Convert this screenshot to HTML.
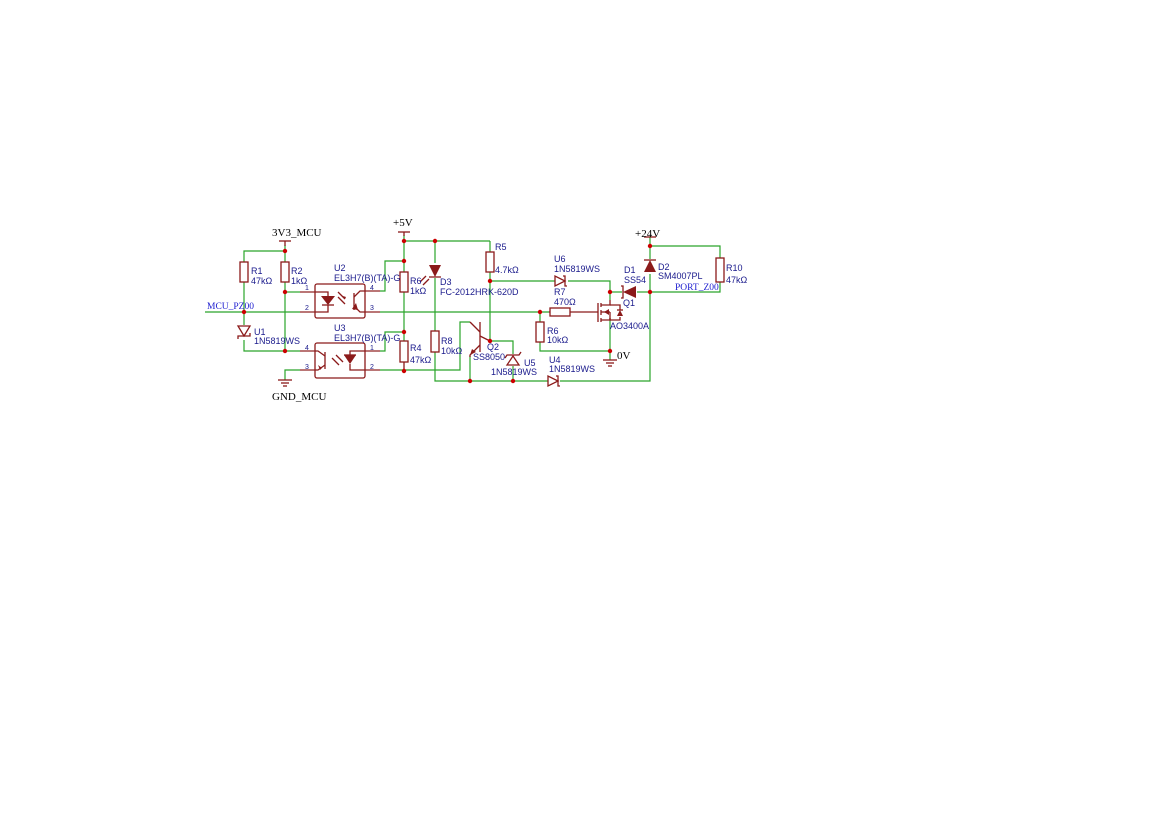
<!DOCTYPE html>
<html><head><meta charset="utf-8"><style>
html,body{margin:0;padding:0;background:#fff;width:1169px;height:827px;overflow:hidden}
svg{display:block}
.w{stroke:#2aa52a;stroke-width:1.2;fill:none}
.p{stroke:#8b1a1a;stroke-width:1.2;fill:none}
.c{stroke:#8b1a1a;stroke-width:1.3;fill:none}
.f{fill:#8b1a1a;stroke:none}
.j{fill:#cc0000}
.t{font-family:"Liberation Sans",sans-serif;font-size:9px;fill:#1a1a8c}
.s{font-family:"Liberation Serif",serif;font-size:11px;fill:#000}
.b{font-family:"Liberation Serif",serif;font-size:9.5px;fill:#2020d0}
</style></head><body>
<svg width="1169" height="827" viewBox="0 0 1169 827">
<g class="w">
<polyline points="244,262 244,251 285,251"/>
<line x1="285" y1="245" x2="285" y2="262"/>
<line x1="285" y1="282" x2="285" y2="351"/>
<line x1="285" y1="292" x2="300" y2="292"/>
<line x1="205" y1="312" x2="300" y2="312"/>
<line x1="244" y1="282" x2="244" y2="325"/>
<polyline points="244,340 244,351 300,351"/>
<polyline points="285,380 285,370 300,370"/>
<polyline points="380,291 385,291 385,261 404,261"/>
<line x1="380" y1="312" x2="549" y2="312"/>
<polyline points="380,351 385,351 385,332 404,332"/>
<polyline points="380,370 460,370 460,322 470,322"/>
<line x1="404" y1="235" x2="404" y2="272"/>
<line x1="404" y1="292" x2="404" y2="341"/>
<line x1="404" y1="241" x2="490" y2="241"/>
<line x1="490" y1="241" x2="490" y2="252"/>
<line x1="435" y1="241" x2="435" y2="263"/>
<line x1="435" y1="278" x2="435" y2="331"/>
<polyline points="435,352 435,381 548,381"/>
<line x1="490" y1="272" x2="490" y2="341"/>
<line x1="490" y1="281" x2="555" y2="281"/>
<polyline points="568,281 610,281 610,300"/>
<polyline points="490,341 513,341 513,354"/>
<line x1="513" y1="366" x2="513" y2="381"/>
<line x1="470" y1="356" x2="470" y2="381"/>
<polyline points="540,322 540,312"/>
<polyline points="540,342 540,351 610,351"/>
<line x1="610" y1="318" x2="610" y2="360"/>
<line x1="610" y1="292" x2="622" y2="292"/>
<line x1="637" y1="292" x2="650" y2="292"/>
<polyline points="560,381 650,381 650,274"/>
<line x1="650" y1="237" x2="650" y2="259"/>
<polyline points="650,246 720,246 720,258"/>
<polyline points="650,292 720,292 720,282"/>
</g>
<g class="p">
<line x1="300" y1="292" x2="315" y2="292"/><line x1="300" y1="312" x2="315" y2="312"/>
<line x1="365" y1="291" x2="380" y2="291"/><line x1="365" y1="312" x2="380" y2="312"/>
<line x1="300" y1="351" x2="315" y2="351"/><line x1="300" y1="370" x2="315" y2="370"/>
<line x1="365" y1="351" x2="380" y2="351"/><line x1="365" y1="370" x2="380" y2="370"/>
<line x1="570" y1="312" x2="598" y2="312"/>
<line x1="549" y1="312" x2="550" y2="312"/>
</g>
<g class="c">
<rect x="240" y="262" width="8" height="20"/>
<rect x="281" y="262" width="8" height="20"/>
<rect x="400" y="272" width="8" height="20"/>
<rect x="400" y="341" width="8" height="21"/>
<line x1="404" y1="362" x2="404" y2="371"/>
<rect x="486" y="252" width="8" height="20"/>
<rect x="431" y="331" width="8" height="21"/>
<rect x="536" y="322" width="8" height="20"/>
<rect x="550" y="308" width="20" height="8"/>
<rect x="716" y="258" width="8" height="24"/>
<rect x="315" y="284" width="50" height="34" rx="2"/>
<rect x="315" y="343" width="50" height="35" rx="2"/>
<polyline points="315,292 328,292 328,296"/><polyline points="328,305 328,312 315,312"/>
<line x1="322" y1="305" x2="334" y2="305"/>
<line x1="338" y1="292" x2="345" y2="299"/><line x1="338" y1="297" x2="345" y2="304"/>
<line x1="354" y1="293" x2="354" y2="310"/>
<polyline points="354,297 360,291 365,291"/><polyline points="354,306 360,312 365,312"/>
<polyline points="365,351 350,351 350,355"/><polyline points="350,364 350,370 365,370"/>
<line x1="344" y1="355" x2="356" y2="355"/>
<line x1="332" y1="358" x2="339" y2="365"/><line x1="336" y1="355" x2="343" y2="362"/>
<line x1="325" y1="352" x2="325" y2="369"/>
<polyline points="325,356 318,351 315,351"/><polyline points="325,365 318,370 315,370"/>
<line x1="278" y1="380" x2="292" y2="380"/><line x1="281" y1="383" x2="289" y2="383"/><line x1="283" y1="386" x2="287" y2="386"/>
<line x1="603" y1="360" x2="617" y2="360"/><line x1="606" y1="363" x2="614" y2="363"/><line x1="608" y1="366" x2="612" y2="366"/>
<line x1="279" y1="241" x2="291" y2="241"/><line x1="285" y1="241" x2="285" y2="246"/>
<line x1="398" y1="232" x2="410" y2="232"/><line x1="404" y1="232" x2="404" y2="236"/>
<line x1="644" y1="237" x2="656" y2="237"/>
<polygon points="238,326 250,326 244,336"/><polyline points="238,339 238,336 250,336 250,333"/>
<line x1="429" y1="277" x2="441" y2="277"/>
<line x1="423" y1="285" x2="429" y2="279"/><line x1="420" y1="282" x2="426" y2="276"/>
<polygon points="555,276 555,286 565,281"/><polyline points="563,276 565,276 565,286 567,286"/>
<polygon points="548,376 548,386 558,381"/><polyline points="556,376 558,376 558,386 560,386"/>
<polygon points="507,365 519,365 513,356"/><polyline points="505,358 507,355 519,355 521,352"/>
<line x1="480" y1="322" x2="480" y2="352"/>
<line x1="470" y1="322" x2="480" y2="332"/>
<line x1="480" y1="336" x2="490" y2="341"/>
<polyline points="480,345 470,355 470,357"/>
<line x1="598" y1="303" x2="598" y2="322"/>
<line x1="601" y1="303" x2="601" y2="307"/><line x1="601" y1="310" x2="601" y2="315"/><line x1="601" y1="318" x2="601" y2="322"/>
<polyline points="601,305 610,305 610,300"/><polyline points="601,320 610,320 610,318"/>
<line x1="601" y1="312" x2="610" y2="312"/><line x1="610" y1="312" x2="610" y2="320"/>
<polyline points="610,305 620,305 620,310"/><polyline points="620,317 620,320 610,320"/>
<line x1="617" y1="310" x2="623" y2="310"/>
<polyline points="621,286 623,286 623,298 621,298"/>
<line x1="644" y1="260" x2="656" y2="260"/>
</g>
<g class="f">
<polygon points="321,296 335,296 328,305"/>
<polygon points="344,355 356,355 350,364"/>
<polygon points="429,265 441,265 435,277"/>
<polygon points="623,292 636,286 636,298"/>
<polygon points="644,272 656,272 650,260"/>
<polygon points="617,316 623,316 620,310"/>
<polygon points="352,309 356,303 358,310"/>
<polygon points="318,365 322,368 320,370"/>
<polygon points="345,299 343,296 346,297"/>
<polygon points="470,355 472,349 476,352"/>
<polygon points="604,312 609,309 609,315"/>
</g>
<g class="j">
<circle cx="285" cy="251" r="2.2"/><circle cx="285" cy="292" r="2.2"/><circle cx="244" cy="312" r="2.2"/><circle cx="285" cy="351" r="2.2"/>
<circle cx="404" cy="241" r="2.2"/><circle cx="435" cy="241" r="2.2"/><circle cx="404" cy="261" r="2.2"/><circle cx="404" cy="332" r="2.2"/><circle cx="404" cy="371" r="2.2"/>
<circle cx="490" cy="281" r="2.2"/><circle cx="490" cy="341" r="2.2"/><circle cx="470" cy="381" r="2.2"/><circle cx="513" cy="381" r="2.2"/>
<circle cx="540" cy="312" r="2.2"/><circle cx="610" cy="292" r="2.2"/><circle cx="610" cy="351" r="2.2"/>
<circle cx="650" cy="246" r="2.2"/><circle cx="650" cy="292" r="2.2"/>
</g>
<text class="s" x="272" y="236">3V3_MCU</text>
<text class="s" x="272" y="400">GND_MCU</text>
<text class="s" x="393" y="226">+5V</text>
<text class="s" x="635" y="237">+24V</text>
<text class="s" x="617" y="359">0V</text>
<text class="b" x="207" y="309">MCU_PZ00</text>
<text class="b" x="675" y="290">PORT_Z00</text>
<g class="t">
<text x="251" y="274">R1</text><text x="251" y="284">47kΩ</text>
<text x="291" y="274">R2</text><text x="291" y="284">1kΩ</text>
<text x="334" y="271">U2</text><text x="334" y="281">EL3H7(B)(TA)-G</text>
<text x="334" y="331">U3</text><text x="334" y="341">EL3H7(B)(TA)-G</text>
<text x="254" y="335">U1</text><text x="254" y="344">1N5819WS</text>
<text x="305" y="290" font-size="7">1</text><text x="305" y="310" font-size="7">2</text>
<text x="370" y="290" font-size="7">4</text><text x="370" y="310" font-size="7">3</text>
<text x="305" y="350" font-size="7">4</text><text x="305" y="369" font-size="7">3</text>
<text x="370" y="350" font-size="7">1</text><text x="370" y="369" font-size="7">2</text>
<text x="410" y="284">R6</text><text x="410" y="294">1kΩ</text>
<text x="410" y="351">R4</text><text x="410" y="363">47kΩ</text>
<text x="440" y="285">D3</text><text x="440" y="295">FC-2012HRK-620D</text>
<text x="441" y="344">R8</text><text x="441" y="354">10kΩ</text>
<text x="495" y="250">R5</text><text x="495" y="273">4.7kΩ</text>
<text x="487" y="350">Q2</text><text x="473" y="360">SS8050</text>
<text x="524" y="366">U5</text><text x="491" y="375">1N5819WS</text>
<text x="554" y="262">U6</text><text x="554" y="272">1N5819WS</text>
<text x="554" y="295">R7</text><text x="554" y="305">470Ω</text>
<text x="547" y="334">R6</text><text x="547" y="343">10kΩ</text>
<text x="549" y="363">U4</text><text x="549" y="372">1N5819WS</text>
<text x="624" y="273">D1</text><text x="624" y="283">SS54</text>
<text x="658" y="270">D2</text><text x="658" y="279">SM4007PL</text>
<text x="623" y="306">Q1</text><text x="610" y="329">AO3400A</text>
<text x="726" y="271">R10</text><text x="726" y="283">47kΩ</text>
</g>
</svg>
</body></html>
